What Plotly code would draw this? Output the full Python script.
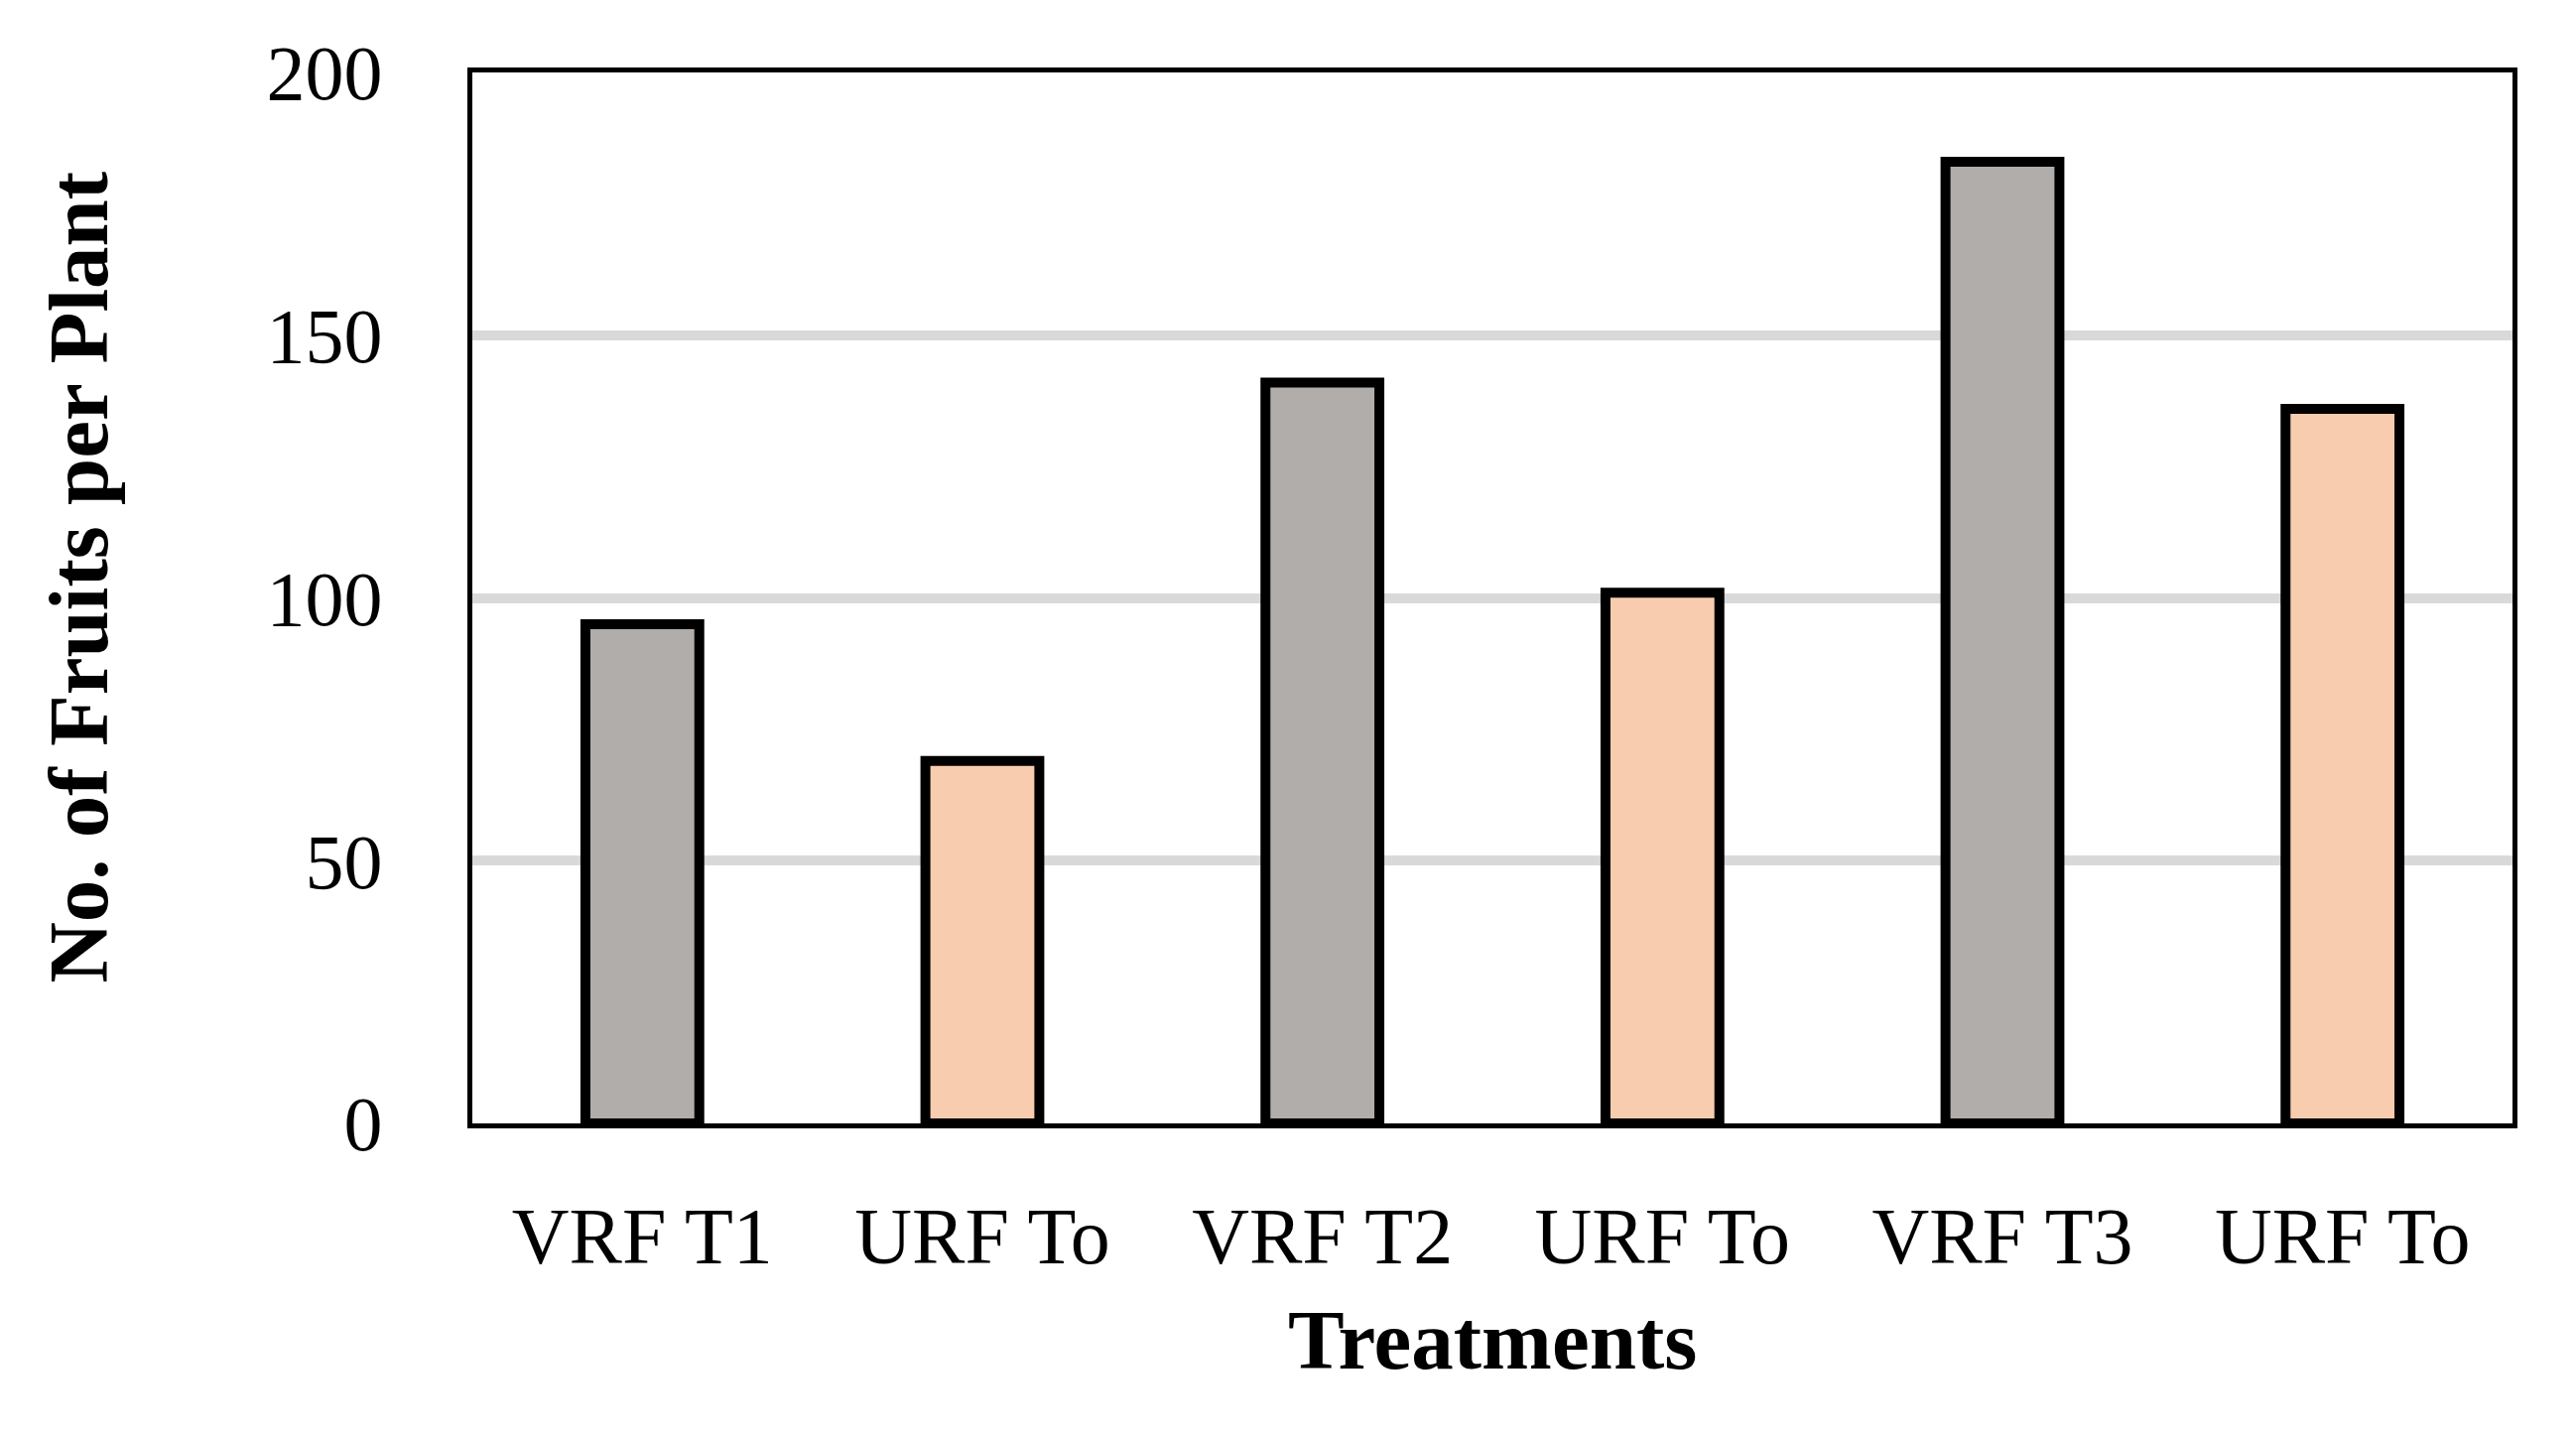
import plotly.graph_objects as go

categories = ["VRF T1", "URF To", "VRF T2", "URF To", "VRF T3", "URF To"]
values = [95, 69, 141, 101, 183, 136]
bar_colors = ["#B0ADAB", "#F8CCAE", "#B0ADAB", "#F8CCAE", "#B0ADAB", "#F8CCAE"]
y_ticks = [0, 50, 100, 150, 200]
x_title = "Treatments"
y_title = "No. of Fruits per Plant"

positions = list(range(len(categories)))

fig = go.Figure()
fig.add_trace(go.Bar(
    x=positions,
    y=values,
    width=0.335,
    marker=dict(color=bar_colors, line=dict(color="black", width=10)),
    showlegend=False,
))

font_family = "Liberation Serif"

fig.update_layout(
    width=2596,
    height=1448,
    paper_bgcolor="white",
    plot_bgcolor="white",
    margin=dict(l=468, r=72, t=65, b=324),
    font=dict(family=font_family, color="black"),
)

fig.update_xaxes(
    range=[-0.5, 5.5],
    tickvals=positions,
    ticktext=categories,
    tickfont=dict(family=font_family, size=80, color="black"),
    showline=True, linecolor="black", linewidth=5, mirror=True,
    showgrid=False, zeroline=False, ticks="",
    ticklabelstandoff=40,
    automargin=False,
)

fig.update_yaxes(
    range=[0, 200],
    tickvals=y_ticks,
    tickfont=dict(family=font_family, size=78, color="black"),
    showline=True, linecolor="black", linewidth=5, mirror=True,
    showgrid=True, gridcolor="#D9D9D9", gridwidth=10,
    zeroline=False, ticks="",
    ticklabelstandoff=70,
    automargin=False,
)

fig.add_annotation(
    text="<b>" + x_title + "</b>", xref="paper", yref="paper",
    x=0.5, y=-0.206, xanchor="center", yanchor="middle", showarrow=False,
    font=dict(family=font_family, size=85, color="black"),
)
fig.add_annotation(
    text="<b>" + y_title + "</b>", xref="paper", yref="paper",
    x=-0.193, y=0.52, xanchor="center", yanchor="middle", showarrow=False,
    textangle=-90,
    font=dict(family=font_family, size=85, color="black"),
)

fig.write_html("out.html")
